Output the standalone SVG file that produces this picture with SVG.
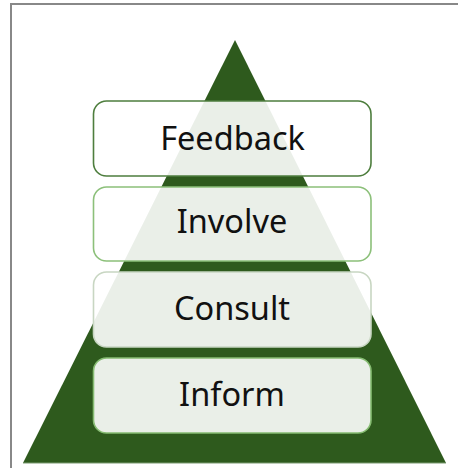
<svg xmlns="http://www.w3.org/2000/svg" width="458" height="468" viewBox="0 0 458 468">
<style>
.box{fill:#ffffff;fill-opacity:0.9;stroke-width:1.6}
.lbl{font-family:"Noto Sans","Liberation Sans",sans-serif;font-size:32.5px;fill:#111111;text-anchor:middle}
</style>
<rect x="0" y="0" width="458" height="468" fill="#ffffff"/>
<path d="M11 468 V4 H458" fill="none" stroke="#888888" stroke-width="2"/>
<g id="pyramid">
<polygon points="235,40 23,463 446,463" fill="#2E5A1D"/>
<line x1="23" y1="463" x2="446" y2="463" stroke="#7A9A70" stroke-width="1"/>
</g>
<g id="connectors"></g>
<g id="feedback">
<rect class="box" x="93.5" y="101" width="277.5" height="75" rx="13" stroke="#4E7E3E"/>
<text class="lbl" x="232.5" y="149.5">Feedback</text>
</g>
<g id="involve">
<rect class="box" x="93.5" y="187" width="277.5" height="74" rx="13" stroke="#8CC07A"/>
<text class="lbl" x="232" y="233">Involve</text>
</g>
<g id="consult">
<rect class="box" x="93.5" y="272" width="277.5" height="75" rx="13" stroke="#C8D6C2"/>
<text class="lbl" x="232" y="320">Consult</text>
</g>
<g id="inform">
<rect class="box" x="93.5" y="358" width="277.5" height="75" rx="13" stroke="#86BC72"/>
<text class="lbl" x="232" y="406">Inform</text>
</g>
</svg>
